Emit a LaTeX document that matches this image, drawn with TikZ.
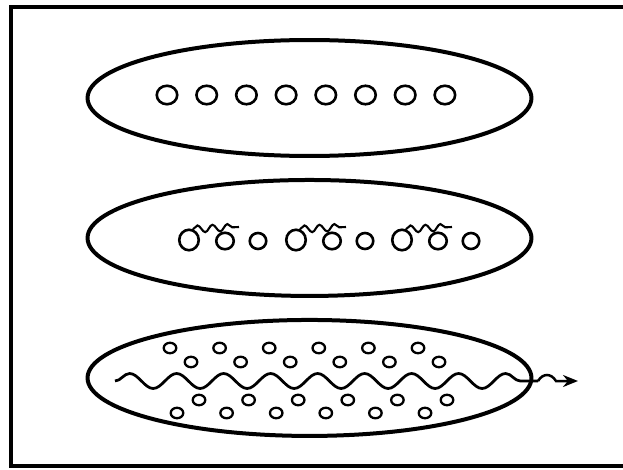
\documentclass[tikz,border=0pt]{standalone}
\usepackage{tikz}
\usetikzlibrary{shapes.geometric, arrows.meta, positioning, decorations.pathmorphing}

\begin{document}
\begin{tikzpicture}[
    x=0.02cm, y=-0.02cm,
    cell/.style={ellipse, draw, line width=0.08cm, minimum width=8.88cm, minimum height=2.32cm, inner sep=0pt},
    bead/.style={ellipse, draw, line width=0.052cm, inner sep=0pt, minimum width=#1},
    bead/.default=0.41cm,
    dot/.style={ellipse, draw, line width=0.046cm, inner sep=0pt, minimum width=0.25cm, minimum height=0.21cm},
    tail/.style={line width=0.042cm, decorate, decoration={snake, segment length=0.3cm, amplitude=0.07cm}},
    wave/.style={line width=0.055cm, decorate, decoration={snake, segment length=0.94cm, amplitude=0.15cm}}
]
    \useasboundingbox (0,0) rectangle (623,470);
    \draw[line width=0.09cm] (623,7) -| (11,466) -- (623,466);

    % three cells
    \node[cell] (pure) at (309.5,98) {};
    \node[cell, below=0.4cm of pure] (mixed) {};
    \node[cell, below=0.4cm of mixed] (flow) {};

    % top row
    \foreach \i in {0,...,7}
        \node[bead, minimum height=0.37cm] (p\i) at ({167+39.7*\i},95) {};

    % middle row, heads with tails
    \foreach \g/\x in {1/189, 2/296, 3/402} {
        \node[bead=0.39cm, minimum height=0.41cm] (h\g) at (\x,240) {};
        \node[bead=0.35cm, minimum height=0.33cm] (t\g) at (\x+36,241) {};
        \node[bead=0.33cm, minimum height=0.32cm] (s\g) at (\x+69,241) {};
        \coordinate (e\g) at (\x+50,227);
        \draw[tail] (h\g.70) -- (e\g);
    }

    % bottom row
    \foreach \i in {0,...,5} {
        \node[dot] (a\i) at ({170+49.6*\i},348) {};
        \node[dot] (b\i) at ({191+49.6*\i},362) {};
        \node[dot] (c\i) at ({199+49.6*\i},400) {};
        \node[dot] (d\i) at ({177+49.6*\i},413) {};
    }
    \coordinate (w0) at (115,381);
    \coordinate (w1) at (538,381);
    \coordinate (tip) at (578,381);
    \draw[wave] (w0) -- (w1);
    \draw[line width=0.05cm, -{Stealth[length=0.3cm, width=0.24cm]}] (w1) .. controls (543,373) and (551,373) .. (556,381) -- (tip);
\end{tikzpicture}
\end{document}
